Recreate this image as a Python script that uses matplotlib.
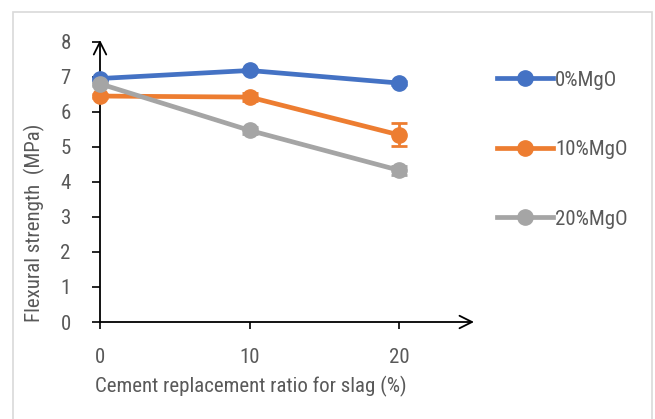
import matplotlib
matplotlib.use("Agg")
import matplotlib.pyplot as plt
from matplotlib.patches import Rectangle
from matplotlib.lines import Line2D

plt.rcParams['font.family'] = ['Roboto Condensed', 'Fira Sans Condensed',
                               'Asap Condensed', 'Open Sans', 'DejaVu Sans']

slag = [0, 10, 20]
series_names = ['0%MgO', '10%MgO', '20%MgO']
strength_0 = [6.95, 7.18, 6.82]
strength_10 = [6.45, 6.42, 5.34]
strength_20 = [6.80, 5.47, 4.33]
err_0 = [0.05, 0.05, 0.05]
err_10 = [0.05, 0.12, 0.33]
err_20 = [0.05, 0.10, 0.12]
colors = ['#4472C4', '#ED7D31', '#A5A5A5']
y_ticks = [0, 1, 2, 3, 4, 5, 6, 7, 8]
x_ticks = [0, 10, 20]

W, H = 655, 419
fig = plt.figure(figsize=(W / 100, H / 100), dpi=100)

# light frame around the chart area
fig.patches.append(Rectangle((13 / W, -0.05), (652 - 13) / W, 1.05 - 12 / H,
                             transform=fig.transFigure, fill=False,
                             edgecolor='#D9D9D9', linewidth=1.2))

ax = fig.add_axes([100 / W, 1 - 322 / H, (474 - 100) / W, (322 - 40) / H])
ax.set_xlim(0, 25)
ax.set_ylim(0, 8.05)
for s in ax.spines.values():
    s.set_visible(False)

# axes drawn as arrows
arrow = dict(arrowstyle='->,head_length=0.9,head_width=0.45',
             color='black', lw=1.3, shrinkA=0, shrinkB=0)
ax.annotate('', xy=(25, 0), xytext=(0, 0), arrowprops=arrow, annotation_clip=False)
ax.annotate('', xy=(0, 8.05), xytext=(0, 0), arrowprops=arrow, annotation_clip=False)

for vals, errs, col in zip([strength_0, strength_10, strength_20],
                           [err_0, err_10, err_20], colors):
    ax.errorbar(slag, vals, yerr=errs, color=col, lw=3.4, marker='o',
                markersize=11, capsize=6, capthick=2, elinewidth=2,
                clip_on=False, zorder=3)

ax.set_xticks(x_ticks)
ax.set_yticks(y_ticks)
ax.tick_params(axis='x', direction='out', length=5, width=1.2, color='black',
               labelcolor='#595959', labelsize=15, pad=14)
ax.tick_params(axis='y', direction='out', length=6, width=1.2, color='black',
               labelcolor='#595959', labelsize=15, pad=15)

ax.set_xlabel('Cement replacement ratio for slag (%)', color='#595959',
              fontsize=15)
ax.xaxis.label.set_horizontalalignment('left')
ax.xaxis.label.set_verticalalignment('center')
ax.xaxis.set_label_coords(-0.013, -0.228)
ax.set_ylabel('Flexural strength  (MPa)', color='#595959', fontsize=15)
ax.yaxis.label.set_verticalalignment('center')
ax.yaxis.label.set_horizontalalignment('left')
ax.yaxis.set_label_coords(-0.175, 0.0)

handles = [Line2D([], [], color=c, lw=3.4, marker='o', markersize=11) for c in colors]
fig.legend(handles, series_names, loc='upper left',
           bbox_to_anchor=(478 / W, 1 - 52 / H), frameon=False,
           fontsize=15, labelcolor='#595959', handlelength=2.7,
           handletextpad=0.1, labelspacing=2.42)

fig.savefig('out.png', dpi=100)
